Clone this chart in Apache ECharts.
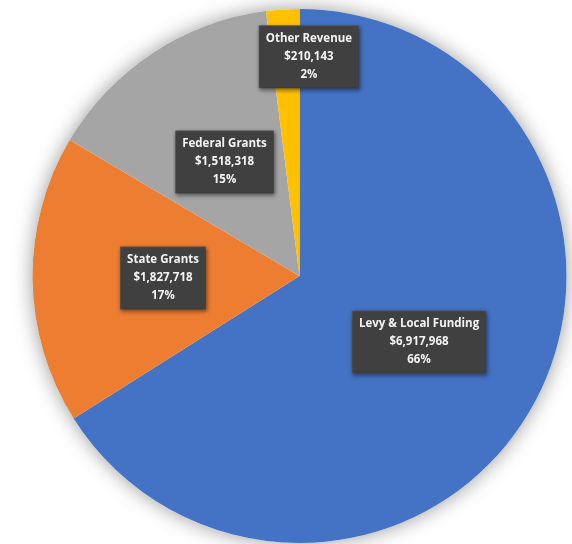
<!DOCTYPE html>
<html>
<head>
<meta charset="utf-8">
<script src="https://cdn.jsdelivr.net/npm/echarts@6/dist/echarts.min.js"></script>
<style>
  html, body { margin: 0; padding: 0; background: #fff; }
  #chart { width: 572px; height: 544px; }
</style>
</head>
<body>
<div id="chart"></div>
<script>
// revenue sources, clockwise from 12 o'clock
const categories = ["Levy & Local Funding", "State Grants", "Federal Grants", "Other Revenue"];
const amounts = [6917968, 1827718, 1518318, 210143];
const colors = ["#4472C4", "#ED7D31", "#A5A5A5", "#FFC000"];

const chart = echarts.init(document.getElementById("chart"));

const fmt = (v) => "$" + v.toLocaleString("en-US");

const option = {
  animation: false,
  series: [
    {
      // soft drop shadow behind the whole pie
      type: "pie",
      silent: true,
      z: 1,
      center: [299.5, 276],
      radius: 267,
      label: { show: false },
      labelLine: { show: false },
      itemStyle: {
        color: "#fff",
        shadowBlur: 20,
        shadowColor: "rgba(0,0,0,0.4)",
      },
      data: [{ value: 1 }],
    },
    {
      type: "pie",
      z: 2,
      center: [299.5, 276],
      radius: 267,
      startAngle: 90,
      clockwise: true,
      percentPrecision: 0,
      data: categories.map((name, i) => ({
        name: name,
        value: amounts[i],
        itemStyle: { color: colors[i] },
      })),
      label: {
        show: true,
        position: "inside",
        formatter: (p) => p.name + "\n" + fmt(p.value) + "\n" + p.percent + "%",
        color: "#f4f4f4",
        fontFamily: "Open Sans",
        fontWeight: "bold",
        fontSize: 11.5,
        lineHeight: 18,
        align: "center",
        backgroundColor: "#404040",
        borderColor: "#565656",
        borderWidth: 1,
        padding: [4, 6, 3, 6],
        shadowBlur: 4,
        shadowOffsetX: 1,
        shadowOffsetY: 2,
        shadowColor: "rgba(0,0,0,0.45)",
      },
      labelLayout: (params) => {
        if (params.dataIndex === 3) {
          return { dx: 18, dy: -83 };
        }
        return {};
      },
      labelLine: { show: false },
      emphasis: { disabled: true },
    },
  ],
};

chart.setOption(option);
</script>
</body>
</html>
